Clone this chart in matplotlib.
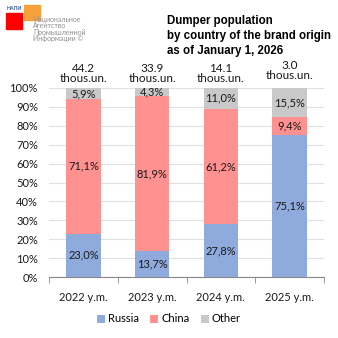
import matplotlib
matplotlib.use("Agg")
import matplotlib.pyplot as plt
import numpy as np

categories = ["2022 y.m.", "2023 y.m.", "2024 y.m.", "2025 y.m."]
totals = ["44.2", "33.9", "14.1", "3.0"]
russia = [23.0, 13.7, 27.8, 75.1]
china = [71.1, 81.9, 61.2, 9.4]
other = [5.9, 4.3, 11.0, 15.5]
series = [("Russia", russia, "#8FAADC"), ("China", china, "#FF9191"), ("Other", other, "#C9C9C9")]

body = ["Lato", "DejaVu Sans"]
plt.rcParams['font.family'] = body

fig = plt.figure(figsize=(3.38, 3.38), dpi=100)
ax = fig.add_axes([49/338, 1-277/338, (324-49)/338, (277-88)/338])

x = np.arange(len(categories))
bottom = np.zeros(len(categories))
for name, vals, col in series:
    vals = np.array(vals)
    ax.bar(x, vals, 0.5, bottom=bottom, color=col, label=name, zorder=2)
    for xi, b, v in zip(x, bottom, vals):
        ax.text(xi, b + v/2, f"{v:.1f}%".replace(".", ","), ha="center", va="center",
                fontsize=8, color="#1a1a1a", zorder=3)
    bottom += vals

for xi, t in zip(x, totals):
    ax.text(xi, 102.0 + (1.5 if xi == 3 else 0), f"{t}\nthous.un.", ha="center", va="bottom",
            fontsize=8.5, color="#1a1a1a", linespacing=0.9, clip_on=False)

ax.set_xlim(-0.5, 3.5)
ax.set_ylim(0, 100)
ax.set_yticks(np.arange(0, 101, 10))
ax.set_yticklabels([f"{v}%" for v in range(0, 101, 10)], fontsize=8, color="#1a1a1a")
ax.set_xticks(x)
ax.set_xticklabels(categories, fontsize=8, color="#1a1a1a")
ax.tick_params(axis="y", length=0, pad=8)
ax.tick_params(axis="x", length=0, pad=11)
ax.set_xticks(np.arange(-0.5, 3.6, 1), minor=True)
ax.tick_params(axis="x", which="minor", length=4, color="#888888", direction="out")
ax.grid(axis="y", color="#E0E0E0", linewidth=0.8, zorder=0)
for s in ["top", "right", "left"]:
    ax.spines[s].set_visible(False)
ax.spines["bottom"].set_color("#888888")

leg = fig.legend(loc="center", bbox_to_anchor=(0.5, 1-319/338), ncol=3, frameon=False,
                 fontsize=8, handlelength=0.7, handleheight=0.7, handletextpad=0.3,
                 columnspacing=1.0)

fig.text(167/338, 1-36/338, "Dumper population\nby country of the brand origin\nas of January 1, 2026",
         ha="left", va="center", fontsize=8.3, fontweight="bold", family=["Liberation Sans"],
         linespacing=1.3)

# logo
fig.patches.append(plt.Rectangle((6/338, 1-29/338), 16/338, 16/338, transform=fig.transFigure,
                                 color="#FF0000", zorder=1))
fig.patches.append(plt.Rectangle((24/338, 1-20/338), 16/338, 15/338, transform=fig.transFigure,
                                 color="#F7A13D", zorder=1))
fig.text(7/338, 1-8/338, "НАПИ", fontsize=3.8, color="#3B5AA0", va="center", fontweight="bold")
fig.text(33/338, 1-29/338, "Национальное\nАгентство\nПромышленной\nИнформации ©", fontsize=5.0,
         color="#909090", va="center", ha="left", linespacing=0.9)

fig.savefig("out.png", dpi=100)
